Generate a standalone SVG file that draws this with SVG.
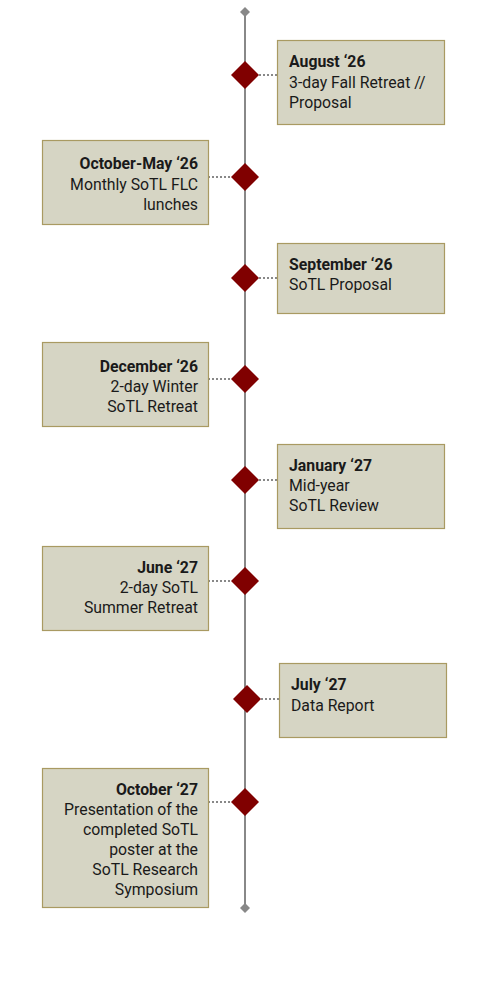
<svg xmlns="http://www.w3.org/2000/svg" width="480" height="998" viewBox="0 0 480 998">
<style>
.box{fill:#d6d5c4;stroke:#a99a62;stroke-width:1.2}
.dia{fill:#800000}
.t{font-family:Roboto,"Liberation Sans",sans-serif;font-size:15.8px;fill:#1a1a1a}
.b{font-weight:bold}
.r{text-anchor:end}
.dot{stroke:#888;stroke-width:2;stroke-dasharray:2 2;fill:none}
</style>
<rect width="480" height="998" fill="#fff"/>
<g id="connectors">
<line x1="245" y1="12" x2="245" y2="908" stroke="#888" stroke-width="2"/>
<path d="M240 12 L245 7 L250 12 L245 17 Z" fill="#888"/>
<path d="M240 908 L245 903 L250 908 L245 913 Z" fill="#888"/>
<line class="dot" x1="259" y1="75" x2="277" y2="75"/>
<line class="dot" x1="208" y1="177" x2="231" y2="177"/>
<line class="dot" x1="259" y1="278" x2="277" y2="278"/>
<line class="dot" x1="208" y1="379" x2="231" y2="379"/>
<line class="dot" x1="259" y1="480" x2="277" y2="480"/>
<line class="dot" x1="208" y1="581" x2="231" y2="581"/>
<line class="dot" x1="261" y1="699" x2="279" y2="699"/>
<line class="dot" x1="208" y1="802" x2="231" y2="802"/>
</g>
<g id="n1">
<rect class="box" x="277.5" y="40.5" width="167" height="84"/>
<path class="dia" d="M231 75 L245 61 L259 75 L245 89 Z"/>
<text class="t b" x="289" y="67">August ‘26</text>
<text class="t" x="289" y="88">3-day Fall Retreat //</text>
<text class="t" x="289" y="108">Proposal</text>
</g>
<g id="n2">
<rect class="box" x="42.5" y="140.5" width="166" height="84"/>
<path class="dia" d="M231 177 L245 163 L259 177 L245 191 Z"/>
<text class="t b r" x="198" y="169">October-May ‘26</text>
<text class="t r" x="198" y="190">Monthly SoTL FLC</text>
<text class="t r" x="198" y="210">lunches</text>
</g>
<g id="n3">
<rect class="box" x="277.5" y="243.5" width="167" height="70"/>
<path class="dia" d="M231 278 L245 264 L259 278 L245 292 Z"/>
<text class="t b" x="289" y="270">September ‘26</text>
<text class="t" x="289" y="290">SoTL Proposal</text>
</g>
<g id="n4">
<rect class="box" x="42.5" y="342.5" width="166" height="84"/>
<path class="dia" d="M231 379 L245 365 L259 379 L245 393 Z"/>
<text class="t b r" x="198" y="372">December ‘26</text>
<text class="t r" x="198" y="392">2-day Winter</text>
<text class="t r" x="198" y="412">SoTL Retreat</text>
</g>
<g id="n5">
<rect class="box" x="277.5" y="444.5" width="167" height="84"/>
<path class="dia" d="M231 480 L245 466 L259 480 L245 494 Z"/>
<text class="t b" x="289" y="471">January ‘27</text>
<text class="t" x="289" y="491">Mid-year</text>
<text class="t" x="289" y="511">SoTL Review</text>
</g>
<g id="n6">
<rect class="box" x="42.5" y="546.5" width="166" height="84"/>
<path class="dia" d="M231 581 L245 567 L259 581 L245 595 Z"/>
<text class="t b r" x="198" y="573">June ‘27</text>
<text class="t r" x="198" y="593">2-day SoTL</text>
<text class="t r" x="198" y="613">Summer Retreat</text>
</g>
<g id="n7">
<rect class="box" x="279.5" y="663.5" width="167" height="74"/>
<path class="dia" d="M233 699 L247 685 L261 699 L247 713 Z"/>
<text class="t b" x="291" y="690">July ‘27</text>
<text class="t" x="291" y="711">Data Report</text>
</g>
<g id="n8">
<rect class="box" x="42.5" y="768.5" width="166" height="139"/>
<path class="dia" d="M231 802 L245 788 L259 802 L245 816 Z"/>
<text class="t b r" x="198" y="795">October ‘27</text>
<text class="t r" x="198" y="815">Presentation of the</text>
<text class="t r" x="198" y="835">completed SoTL</text>
<text class="t r" x="198" y="855">poster at the </text>
<text class="t r" x="198" y="875">SoTL Research</text>
<text class="t r" x="198" y="895">Symposium</text>
</g>
</svg>
